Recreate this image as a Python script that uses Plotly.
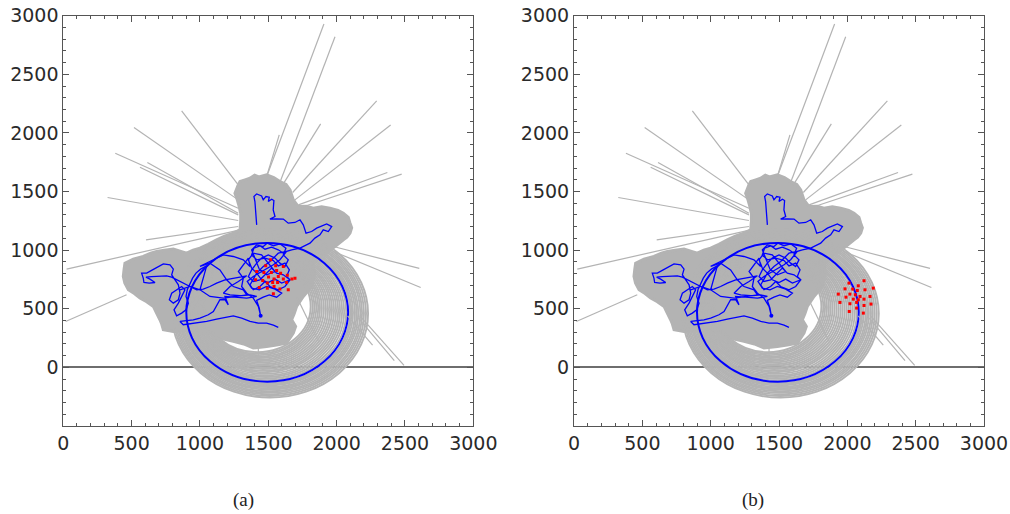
import plotly.graph_objects as go

# ---------------- data ----------------
x_ticks = [0, 500, 1000, 1500, 2000, 2500, 3000]
y_ticks = [0, 500, 1000, 1500, 2000, 2500, 3000]
captions = ["(a)", "(b)"]

# dense grey cloud of sample trajectories (outline)
blob_x = [1256, 1280, 1293, 1330, 1366, 1400, 1430, 1488, 1540, 1585, 1630, 1659, 1683, 1720,
          1780, 1829, 1890, 1951, 2010, 2049, 2085, 2098, 2110, 2098, 2075, 2049, 1988, 1900,
          1829, 1840, 1817, 1756, 1707, 1690, 1671, 1700, 1683, 1634, 1560, 1488, 1390, 1320,
          1244, 1180, 1122, 1049, 990, 927, 860, 805, 732, 720, 707, 680, 659, 610, 561, 520,
          476, 450, 439, 445, 451, 512, 585, 640, 683, 740, 805, 860, 902, 950, 1000, 1060,
          1122, 1180, 1244, 1293, 1298, 1298, 1285, 1273]
blob_y = [1486, 1557, 1585, 1600, 1614, 1640, 1625, 1642, 1620, 1585, 1560, 1514, 1429, 1372,
          1375, 1358, 1370, 1358, 1340, 1315, 1280, 1230, 1190, 1145, 1110, 1088, 1031, 960,
          889, 800, 690, 605, 520, 460, 406, 350, 293, 207, 190, 179, 165, 200,
          222, 240, 264, 307, 300, 321, 310, 307, 321, 370, 406, 470, 520, 560, 591, 630,
          662, 720, 776, 840, 889, 923, 946, 975, 989, 1000, 1009, 990, 974, 1000, 1017, 1050,
          1088, 1120, 1145, 1173, 1250, 1315, 1380, 1429]

# grey circular sample trajectories: centre and radius
ring_cx = [1420, 1424, 1427, 1431, 1435, 1438, 1442, 1446, 1450, 1454, 1458, 1461, 1465, 1469,
           1473, 1476, 1480, 1484, 1488,
           1495, 1496, 1498, 1500, 1501, 1503, 1505, 1506, 1508, 1510, 1512]
ring_cy = [520, 517, 515, 512, 510, 507, 504, 502, 499, 496, 494, 491, 488, 486,
           483, 480, 478, 475, 472,
           470, 469, 468, 467, 466, 465, 464, 463, 462, 461, 460]
ring_r = [390, 400, 410, 420, 430, 440, 450, 461, 472, 483, 494, 505, 516, 527,
          538, 549, 560, 571, 582,
          604, 612, 622, 634, 645, 655, 668, 680, 692, 705, 718]

# grey straight (diverging) sample trajectories: start and end points
ray_x0 = [1488, 1585, 1488, 1605, 1678, 1695, 1720, 1744, 1976, 1976, 2080, 1707, 2160, 2170,
          1280, 1280, 1280, 1280, 1280, 1280, 1280, 1293, 463, 1427]
ray_y0 = [1628, 1577, 1628, 1557, 1492, 1429, 1386, 1366, 1031, 989, 440, 605, 420, 440,
          1557, 1429, 1358, 1315, 1301, 1253, 1202, 1173, 619, 215]
ray_x1 = [1907, 1988, 1580, 1883, 2293, 2395, 2371, 2476, 2605, 2615, 2263, 1866, 2422, 2493,
          866, 517, 380, 615, 561, 324, 605, 24, 17, 1427]
ray_y1 = [2929, 2821, 1983, 2077, 2273, 2068, 1662, 1648, 844, 682, 190, 222, 57, 17,
          2188, 2046, 1827, 1747, 1707, 1449, 1088, 838, 392, 65]

# blue: reference circular trajectory and one sample trajectory
blue_cx, blue_cy, blue_r = 1492, 470, 592
path_x = [1415, 1410, 1402, 1395, 1415, 1451, 1463, 1483, 1507, 1500, 1525, 1541, 1536, 1549,
          1512, 1561, 1610, 1646, 1695, 1732, 1756, 1776, 1817, 1854, 1890, 1927, 1964, 1939,
          1902, 1878, 1841, 1805, 1732, 1671, 1622,
          1610, 1573, 1524, 1476, 1439, 1395, 1378, 1415, 1476, 1537, 1573, 1622, 1654, 1634,
          1659, 1598, 1549, 1500, 1451, 1415, 1378, 1354, 1390, 1451, 1507, 1549, 1488, 1434,
          1378, 1415, 1463, 1493, 1537, 1585, 1629, 1610, 1646, 1622, 1585, 1549, 1500, 1451,
          1415, 1378, 1354, 1390, 1439, 1488, 1524, 1561, 1610, 1659, 1622, 1573, 1512, 1476,
          1439, 1390, 1366, 1415, 1463, 1512, 1573, 1634, 1585, 1537,
          1390, 1346, 1378, 1434, 1488, 1549, 1598, 1561, 1507, 1463, 1415, 1434, 1444,
          1427, 1390, 1342, 1305, 1317, 1281, 1317, 1354, 1366, 1317, 1244, 1171, 1098,
          1000, 1073, 1146, 1195, 1244, 1317, 1342, 1268, 1171, 1073, 1000, 927, 854,
          927, 1000, 1049,
          1005, 971, 946, 927, 907, 898, 915, 898, 866, 829, 810, 842, 866, 890, 866, 829,
          793, 776, 805, 842, 854, 842, 817, 793, 805, 781, 732, 683, 646, 610, 573, 585,
          590, 629, 671, 634, 605, 646, 707, 756, 793, 829, 878, 927, 976, 1024, 1073, 1122,
          1183, 1244, 1305, 1342, 1281, 1220, 1171, 1220, 1293, 1366, 1415, 1342, 1256, 1183,
          1207, 1183, 1146, 1122, 1098, 1061, 1000, 951, 902, 854, 878, 927, 988, 1049, 1122,
          1183, 1244, 1305, 1366, 1427, 1488, 1537, 1573]
path_y = [1216, 1316, 1415, 1457, 1480, 1463, 1429, 1457, 1452, 1415, 1435, 1423, 1344, 1287,
          1265, 1267, 1265, 1230, 1236, 1259, 1216, 1145, 1159, 1188, 1207, 1224, 1201, 1159,
          1173, 1131, 1103, 1060, 1017, 1003, 985,
          974, 1003, 1025, 1008, 1037, 1017, 960, 918, 932, 912, 866, 889, 832, 775,
          747, 719, 753, 724, 747, 804, 847, 918, 974, 960, 875, 818, 790, 838,
          1003, 1045, 1031, 1060, 1037, 1054, 1017, 960, 918, 861, 889, 932, 960, 932,
          889, 832, 775, 733, 747, 804, 847, 804, 790, 747, 690, 662, 690, 733,
          690, 662, 704, 804, 861, 903, 974, 989, 918, 875,
          775, 733, 676, 662, 690, 668, 633, 599, 619, 599, 571, 506, 440,
          520, 591, 633, 690, 761, 818, 875, 932, 861, 918, 946, 960, 918,
          861, 889, 832, 747, 690, 662, 619, 605, 591, 605, 662, 690, 662,
          690, 662, 866,
          838, 804, 761, 719, 662, 605, 548, 491, 463, 440, 491, 548, 605, 662, 690, 662,
          633, 577, 548, 577, 633, 704, 753, 790, 838, 875, 883, 855, 827, 804, 804, 761,
          724, 719, 724, 753, 770, 775, 775, 781, 770, 747, 719, 690, 662, 668, 690, 719,
          747, 761, 775, 781, 733, 690, 633, 619, 611, 619, 605, 591, 599, 605,
          534, 577, 577, 520, 477, 449, 420, 406, 400, 392, 364, 372, 383, 392, 412,
          429, 440, 420, 392, 378, 378, 361, 341]
dot_x, dot_y = [1444], [440]

# red: particle positions
red_a_x = [1415, 1481, 1517, 1554, 1610, 1468, 1522, 1561, 1590, 1639, 1695, 1407, 1459, 1502,
           1542, 1573, 1610, 1673, 1493, 1532, 1568, 1634, 1434, 1493, 1542, 1585, 1646, 1537]
red_a_y = [818, 866, 918, 866, 861, 810, 810, 827, 804, 787, 761, 747, 741, 770,
           753, 775, 753, 753, 719, 724, 724, 724, 682, 676, 690, 668, 662, 628]
red_b_x = [2012, 2080, 2122, 2190, 1983, 2039, 2073, 2129, 1934, 2019, 2058, 2093, 2166, 1990,
           2044, 2080, 2122, 1946, 2019, 2068, 2173, 2122, 2068, 2014, 2117]
red_b_y = [719, 696, 739, 676, 670, 668, 656, 662, 625, 625, 619, 605, 605, 599,
           582, 577, 582, 554, 543, 554, 540, 528, 506, 477, 463]

# ---------------- styling ----------------
GREY = "#b3b3b3"
BLUE = "#0000ff"
RED = "#ff0000"
FRAME = "#555555"
TICKFONT = dict(family="DejaVu Sans", size=19, color="#2a2a2a")
W, H = 1010, 514

fig = go.Figure()

panels = [("x", "y", red_a_x, red_a_y), ("x2", "y2", red_b_x, red_b_y)]
shapes = []
for xr, yr, rx, ry in panels:
    blob_path = "M " + " L ".join(f"{bx},{by}" for bx, by in zip(blob_x, blob_y)) + " Z"
    shapes.append(dict(type="path", path=blob_path, xref=xr, yref=yr, layer="between",
                       fillcolor=GREY, line=dict(color=GREY, width=3)))
    for cx, cy, r in zip(ring_cx, ring_cy, ring_r):
        shapes.append(dict(type="circle", xref=xr, yref=yr, x0=cx - r, x1=cx + r,
                           y0=cy - r, y1=cy + r, layer="between",
                           line=dict(color=GREY, width=1.9)))
    shapes.append(dict(type="circle", xref=xr, yref=yr, x0=blue_cx - blue_r, x1=blue_cx + blue_r,
                       y0=blue_cy - blue_r, y1=blue_cy + blue_r, layer="between",
                       line=dict(color=BLUE, width=2.0)))

    lx, ly = [], []
    for a, b, c, d in zip(ray_x0, ray_y0, ray_x1, ray_y1):
        lx += [a, c, None]
        ly += [b, d, None]
    fig.add_trace(go.Scatter(x=lx, y=ly, mode="lines", line=dict(color=GREY, width=1.2),
                             xaxis=xr, yaxis=yr, showlegend=False, hoverinfo="skip"))
    fig.add_trace(go.Scatter(x=path_x, y=path_y, mode="lines", line=dict(color=BLUE, width=1.3),
                             xaxis=xr, yaxis=yr, showlegend=False))
    fig.add_trace(go.Scatter(x=dot_x, y=dot_y, mode="markers",
                             marker=dict(color=BLUE, size=4), xaxis=xr, yaxis=yr, showlegend=False))
    fig.add_trace(go.Scatter(x=rx, y=ry, mode="markers",
                             marker=dict(color=RED, size=3, symbol="square"),
                             xaxis=xr, yaxis=yr, showlegend=False))

axis_common = dict(showline=True, linecolor=FRAME, linewidth=1, mirror="ticks",
                   ticks="inside", ticklen=6, tickcolor=FRAME, tickwidth=1,
                   showgrid=False, tickfont=TICKFONT, automargin=False,
                   ticklabeloverflow="allow",
                   minor=dict(tickmode="linear", tick0=0, dtick=100, ticks="inside",
                              ticklen=3, tickcolor=FRAME, tickwidth=1, showgrid=False))

xa = dict(axis_common, range=[0, 3000], tickmode="array", tickvals=x_ticks,
          ticktext=[str(v) for v in x_ticks], zeroline=False)
ya = dict(axis_common, range=[-500, 3000], tickmode="array", tickvals=y_ticks,
          ticktext=[str(v) for v in y_ticks], zeroline=True, zerolinecolor="#6e6e6e",
          zerolinewidth=1.6)

ydom = [(H - 426) / H, (H - 15.7) / H]
fig.update_layout(
    width=W, height=H,
    margin=dict(l=0, r=0, t=0, b=0),
    paper_bgcolor="white", plot_bgcolor="white",
    template="none",
    xaxis=dict(xa, domain=[63.3 / W, 473.3 / W], anchor="y"),
    yaxis=dict(ya, domain=ydom, anchor="x"),
    xaxis2=dict(xa, domain=[574 / W, 984 / W], anchor="y2"),
    yaxis2=dict(ya, domain=ydom, anchor="x2"),
    shapes=shapes,
    annotations=[
        dict(text=captions[0], x=243 / W, y=(H - 500) / H, xref="paper", yref="paper",
             xanchor="center", yanchor="middle", showarrow=False,
             font=dict(family="Liberation Serif", size=19, color="#222")),
        dict(text=captions[1], x=753 / W, y=(H - 500) / H, xref="paper", yref="paper",
             xanchor="center", yanchor="middle", showarrow=False,
             font=dict(family="Liberation Serif", size=19, color="#222")),
    ],
)

fig.write_html("out.html",
               config={"displayModeBar": False},
               post_script="document.body.style.margin='0px';"
                           "document.body.style.overflow='hidden';")
